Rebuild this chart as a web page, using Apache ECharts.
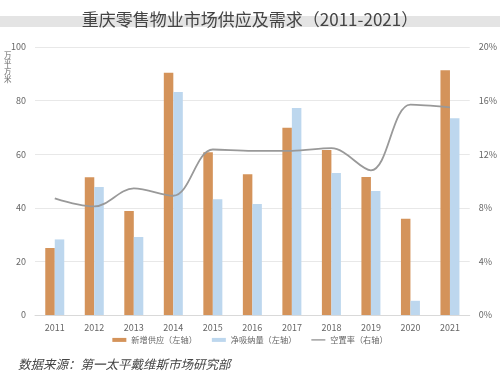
<!DOCTYPE html>
<html><head><meta charset="utf-8">
<script src="https://cdn.jsdelivr.net/npm/echarts@6/dist/echarts.min.js"></script>
<style>html,body{margin:0;padding:0;background:#fff;}#c{width:500px;height:379px;}</style>
</head><body><div id="c"></div>
<script>
const categories = ['2011','2012','2013','2014','2015','2016','2017','2018','2019','2020','2021'];
const newSupply = [25, 51.4, 38.8, 90.4, 60.7, 52.5, 69.9, 61.6, 51.5, 35.9, 91.3];
const netAbsorption = [28.2, 47.8, 29.1, 83.2, 43.2, 41.4, 77.2, 53, 46.3, 5.3, 73.4];
const vacancyRate = [8.7, 8.1, 9.45, 8.9, 12.35, 12.25, 12.25, 12.45, 10.8, 15.7, 15.5];
const leftTicks = [0, 20, 40, 60, 80, 100];
const rightTicks = [0, 4, 8, 12, 16, 20];
const FONT = '"Noto Sans CJK SC", "Noto Sans", sans-serif';

const chart = echarts.init(document.getElementById('c'));
chart.setOption({
  animation: false,
  textStyle: { fontFamily: FONT },
  graphic: [
    { type: 'rect', left: 0, top: 16, shape: { width: 500, height: 11 }, style: { fill: '#e4e4e4' }, z: -1 },
    { type: 'text', left: 18, top: 358, style: { text: '数据来源：第一太平戴维斯市场研究部', font: 'italic 12.5px "Noto Sans CJK SC", sans-serif', fill: '#444' } },
    { type: 'text', left: 4, top: 51, style: { text: '万\n平\n方\n米', font: '7.5px "Noto Sans CJK SC", sans-serif', fill: '#666', lineHeight: 8 } }
  ],
  title: {
    text: '重庆零售物业市场供应及需求（2011-2021）',
    left: 'center', top: 6,
    textStyle: { fontSize: 17, fontWeight: 'normal', color: '#444', fontFamily: FONT }
  },
  legend: {
    bottom: 30, left: 'center',
    itemWidth: 14, itemHeight: 4, itemGap: 15,
    textStyle: { fontSize: 8.2, color: '#666', fontFamily: FONT },
    data: [
      { name: '新增供应（左轴）', icon: 'rect' },
      { name: '净吸纳量（左轴）', icon: 'rect' },
      { name: '空置率（右轴）', icon: 'path://M0,0L14,0L14,1.2L0,1.2Z', itemStyle: { color: '#888' } }
    ]
  },
  grid: { left: 35, right: 27, top: 47, bottom: 64, containLabel: false },
  xAxis: {
    type: 'category', data: categories,
    axisLine: { lineStyle: { color: '#d9d9d9' } },
    axisTick: { show: false },
    axisLabel: { color: '#666', fontSize: 9, margin: 8 }
  },
  yAxis: [
    { type: 'value', min: leftTicks[0], max: leftTicks[leftTicks.length-1], interval: 20,
      axisLine: { show: false }, axisTick: { show: false },
      axisLabel: { color: '#666', fontSize: 9, margin: 9 },
      splitLine: { lineStyle: { color: '#e8e8e8' } } },
    { type: 'value', min: rightTicks[0], max: rightTicks[rightTicks.length-1], interval: 4,
      axisLine: { show: false }, axisTick: { show: false },
      axisLabel: { color: '#666', fontSize: 9, margin: 9, formatter: '{value}%' },
      splitLine: { show: false } }
  ],
  series: [
    { name: '新增供应（左轴）', type: 'bar', data: newSupply, barWidth: 9.5, barGap: '0%',
      itemStyle: { color: '#d4935a' } },
    { name: '净吸纳量（左轴）', type: 'bar', data: netAbsorption, barWidth: 9.5, barGap: '0%',
      itemStyle: { color: '#bdd7ee' } },
    { name: '空置率（右轴）', type: 'line', yAxisIndex: 1, data: vacancyRate, smooth: 0.35,
      symbol: 'none', lineStyle: { color: '#999', width: 1.8 }, itemStyle: { color: '#999' } }
  ]
});
</script></body></html>
